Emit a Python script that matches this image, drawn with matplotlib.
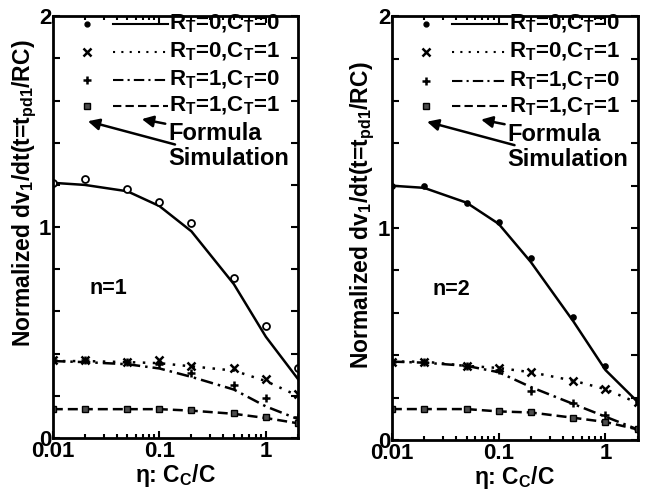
import numpy as np
import matplotlib
matplotlib.use('Agg')
import matplotlib.pyplot as plt
from matplotlib.ticker import FixedLocator, NullFormatter, LogLocator, FixedFormatter

plt.rcParams['font.family'] = ['Liberation Sans', 'DejaVu Sans']
plt.rcParams['font.weight'] = 'bold'
plt.rcParams['mathtext.fontset'] = 'custom'
plt.rcParams['mathtext.rm'] = 'Liberation Sans:bold'
plt.rcParams['mathtext.it'] = 'Liberation Sans:bold'
plt.rcParams['mathtext.bf'] = 'Liberation Sans:bold'
plt.rcParams['mathtext.default'] = 'bf'

# eta = Cc/C
eta = [0.01, 0.02, 0.05, 0.1, 0.2, 0.5, 1, 2]

labels = ['$R_T$=0,$C_T$=0', '$R_T$=0,$C_T$=1', '$R_T$=1,$C_T$=0', '$R_T$=1,$C_T$=1']

# n=1 panel
n1_formula_r0c0 = [1.21, 1.20, 1.17, 1.10, 0.98, 0.73, 0.48, 0.28]
n1_sim_r0c0 = [1.21, 1.23, 1.18, 1.12, 1.02, 0.76, 0.53, 0.33]
n1_formula_r0c1 = [0.365, 0.365, 0.36, 0.355, 0.34, 0.32, 0.27, 0.20]
n1_sim_r0c1 = [0.37, 0.37, 0.36, 0.37, 0.34, 0.33, 0.28, 0.21]
n1_formula_r1c0 = [0.365, 0.36, 0.35, 0.33, 0.29, 0.23, 0.15, 0.09]
n1_sim_r1c0 = [0.37, 0.37, 0.36, 0.35, 0.31, 0.25, 0.19, 0.10]
n1_formula_r1c1 = [0.137, 0.137, 0.137, 0.137, 0.13, 0.115, 0.095, 0.07]
n1_sim_r1c1 = [0.14, 0.14, 0.14, 0.14, 0.135, 0.12, 0.10, 0.07]

# n=2 panel
n2_formula_r0c0 = [1.20, 1.19, 1.12, 1.02, 0.84, 0.56, 0.33, 0.18]
n2_sim_r0c0 = [1.20, 1.20, 1.12, 1.03, 0.86, 0.58, 0.35, 0.18]
n2_formula_r0c1 = [0.37, 0.37, 0.35, 0.34, 0.32, 0.28, 0.24, 0.175]
n2_sim_r0c1 = [0.37, 0.37, 0.35, 0.34, 0.32, 0.28, 0.24, 0.18]
n2_formula_r1c0 = [0.37, 0.365, 0.35, 0.32, 0.25, 0.17, 0.11, 0.05]
n2_sim_r1c0 = [0.37, 0.37, 0.35, 0.33, 0.23, 0.175, 0.12, 0.05]
n2_formula_r1c1 = [0.146, 0.146, 0.146, 0.135, 0.13, 0.105, 0.085, 0.05]
n2_sim_r1c1 = [0.146, 0.146, 0.146, 0.135, 0.13, 0.105, 0.085, 0.05]

line_styles = ['-', (0, (1, 3)), (0, (5, 2, 1, 2)), (0, (4, 2))]
sim_markers = ['o', 'x', '+', 's']

panels = [
    ('n=1', [n1_formula_r0c0, n1_formula_r0c1, n1_formula_r1c0, n1_formula_r1c1],
     [n1_sim_r0c0, n1_sim_r0c1, n1_sim_r1c0, n1_sim_r1c1], [0.081, 0.106, 0.376, 0.861], True,
     (-0.058, 0.58)),
    ('n=2', [n2_formula_r0c0, n2_formula_r0c1, n2_formula_r1c0, n2_formula_r1c1],
     [n2_sim_r0c0, n2_sim_r0c1, n2_sim_r1c0, n2_sim_r1c1], [0.601, 0.102, 0.377, 0.865], False,
     (-0.06, 0.53)),
]

fig = plt.figure(figsize=(6.52, 4.9), dpi=100)

for name, formulas, sims, rect, hollow, ylab_pos in panels:
    ax = fig.add_axes(rect)
    for i in range(4):
        ax.plot(eta, formulas[i], color='black', lw=1.8, linestyle=line_styles[i])
        if i == 0:
            ax.plot(eta, sims[i], linestyle='none', marker='o', ms=5 if hollow else 3.5,
                    mfc='white' if hollow else 'black', mec='black', mew=1.3)
        elif i == 3:
            ax.plot(eta, sims[i], linestyle='none', marker='s', ms=4, mfc='0.3', mec='black', mew=1)
        else:
            ax.plot(eta, sims[i], linestyle='none', marker=sim_markers[i], ms=6, color='black', mew=1.8)

    ax.set_xscale('log')
    ax.set_xlim(0.01, 2)
    ax.set_ylim(0, 2)
    ax.xaxis.set_major_locator(FixedLocator([0.01, 0.1, 1]))
    ax.xaxis.set_major_formatter(FixedFormatter(['0.01', '0.1', '1']))
    ax.xaxis.set_minor_locator(LogLocator(base=10, subs=np.arange(2, 10)))
    ax.xaxis.set_minor_formatter(NullFormatter())
    ax.set_yticks(np.arange(0, 2.01, 0.2))
    ax.set_yticklabels(['0', '', '', '', '', '1', '', '', '', '', '2'])
    ax.tick_params(which='both', direction='in', top=True, right=True, width=1.5, labelsize=16)
    ax.tick_params(which='major', length=5, pad=2)
    ax.tick_params(which='minor', length=3)
    ax.tick_params(axis='y', pad=1)
    for sp in ax.spines.values():
        sp.set_linewidth(2)
    ax.set_xlabel(r'$\eta$: $C_C$/C', fontsize=16.5, fontweight='bold', labelpad=0)
    ax.set_ylabel('Normalized d$v_1$/dt(t=$t_{pd1}$/RC)', fontsize=16.5, fontweight='bold')
    ax.yaxis.set_label_coords(*ylab_pos)

    # hand-made legend
    rows = [0.981, 0.915, 0.848, 0.787]
    for i in range(4):
        y = rows[i]
        if i == 0:
            ax.plot([0.139], [y], transform=ax.transAxes, marker='o', ms=3.5, color='black', clip_on=False)
        elif i == 3:
            ax.plot([0.139], [y], transform=ax.transAxes, marker='s', ms=4, mfc='0.3', mec='black', clip_on=False)
        else:
            ax.plot([0.139], [y], transform=ax.transAxes, marker=sim_markers[i], ms=6, mew=1.8,
                    color='black', clip_on=False)
        ax.plot([0.245, 0.47], [y, y], transform=ax.transAxes, color='black', lw=1.5,
                linestyle=line_styles[i])
        ax.text(0.475, y, labels[i], transform=ax.transAxes, fontsize=16, fontweight='bold',
                va='center', ha='left')

    ax.annotate('Formula', xy=(0.363, 0.756), xytext=(0.47, 0.722), xycoords='axes fraction',
                textcoords='axes fraction', fontsize=17, fontweight='bold', va='center', ha='left',
                arrowprops=dict(arrowstyle='-|>', color='black', lw=1.8, shrinkA=0, shrinkB=0))
    ax.annotate('Simulation', xy=(0.143, 0.751), xytext=(0.47, 0.662), xycoords='axes fraction',
                textcoords='axes fraction', fontsize=17, fontweight='bold', va='center', ha='left',
                arrowprops=dict(arrowstyle='-|>', color='black', lw=1.8, shrinkA=0, shrinkB=0))
    ax.text(0.15 if hollow else 0.167, 0.355, name, transform=ax.transAxes, fontsize=15.5,
            fontweight='bold', va='center', ha='left')

fig.savefig('out.png', dpi=100)
